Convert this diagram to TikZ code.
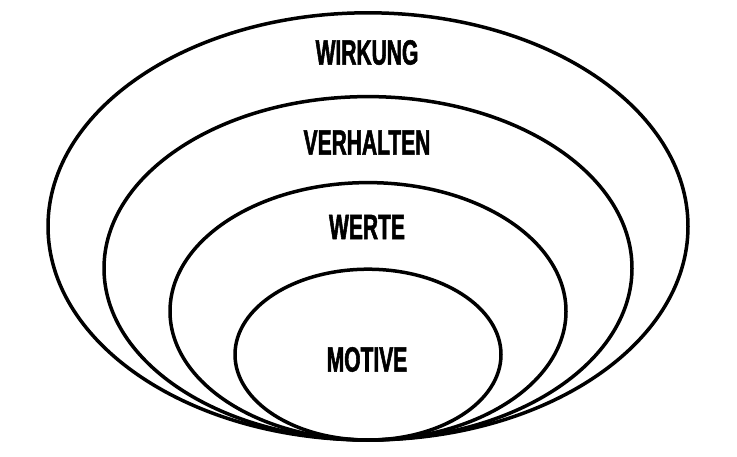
\documentclass[tikz,border=0pt]{standalone}
\usepackage{fontspec}
\newfontfamily\labelfont{Liberation Sans Bold}[FakeStretch=0.6,FakeBold=1.5]
\begin{document}
\begin{tikzpicture}[x=1pt,y=-1pt,line width=3.5pt]
\tikzset{layer/.style={font=\labelfont\fontsize{35}{35}\selectfont,inner sep=0pt}}
\useasboundingbox (0,0) rectangle (737,456);

\draw (368,226.4) ellipse [x radius=320pt, y radius=213.6pt];
\node[layer] (wirkung) at (367,52.5) {WIRKUNG};

\draw (368,268.3) ellipse [x radius=264pt, y radius=171.7pt];
\node[layer] (verhalten) at (367,142.5) {VERHALTEN};

\draw (368,311.3) ellipse [x radius=198pt, y radius=128.7pt];
\node[layer] (werte) at (367,227) {WERTE};

\draw (368,354.6) ellipse [x radius=133pt, y radius=85.4pt];
\node[layer] (motive) at (367,359.5) {MOTIVE};
\end{tikzpicture}
\end{document}
